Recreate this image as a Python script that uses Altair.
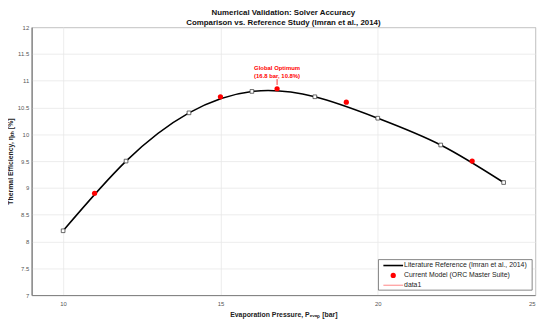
import altair as alt
import pandas as pd

# Literature reference (Imran et al., 2014)
ref_p = [10, 12, 14, 16, 18, 20, 22, 24]
ref_eta = [8.2, 9.5, 10.4, 10.8, 10.7, 10.3, 9.8, 9.1]

# Current model (ORC Master Suite)
mod_p = [11, 15, 16.8, 19, 23]
mod_eta = [8.9, 10.7, 10.85, 10.6, 9.5]

x_ticks = [10, 15, 20, 25]
y_ticks = [7, 7.5, 8, 8.5, 9, 9.5, 10, 10.5, 11, 11.5, 12]

title_lines = ["Numerical Validation: Solver Accuracy",
               "Comparison vs. Reference Study (Imran et al., 2014)"]
legend_labels = ["Literature Reference (Imran et al., 2014)",
                 "Current Model (ORC Master Suite)",
                 "data1"]
ann_lines = ["Global Optimum", "(16.8 bar, 10.8%)"]
ann_x = 16.8
ann_y = [11.23, 11.08]
ann_rule = [11.03, 10.92]

FONT = "Liberation Sans"
W, H = 511, 272

ref_df = pd.DataFrame({"p": ref_p, "eta": ref_eta})
mod_df = pd.DataFrame({"p": mod_p, "eta": mod_eta})

xs = alt.Scale(domain=[9, 25], nice=False, zero=False)
ys = alt.Scale(domain=[7, 12], nice=False, zero=False)

x_axis = alt.Axis(values=x_ticks, title="Evaporation Pressure, Pₑᵥₐₚ [bar]",
                  format="~g", titlePadding=4, labelPadding=6)
y_axis = alt.Axis(values=y_ticks, tickCount=11, title="Thermal Efficiency, ηₜₕ [%]",
                  format="~g", titlePadding=4, labelPadding=3, labelOverlap=False)


def X(f="p"):
    return alt.X(f + ":Q", scale=xs, axis=x_axis)


def Y(f="eta"):
    return alt.Y(f + ":Q", scale=ys, axis=y_axis)


curve = alt.Chart(ref_df).mark_line(color="black", strokeWidth=1.6, interpolate="natural").encode(
    x=X(), y=Y())
squares = alt.Chart(ref_df).mark_point(shape="square", filled=True, fill="white", stroke="#444444",
                                       strokeWidth=0.8, size=14, opacity=1).encode(x=X(), y=Y())
dots = alt.Chart(mod_df).mark_circle(color="#ff0000", size=28, opacity=1).encode(x=X(), y=Y())

ann_rule_df = pd.DataFrame({"p": [ann_x], "eta": [ann_rule[0]], "eta2": [ann_rule[1]]})
ann_rule_mark = alt.Chart(ann_rule_df).mark_rule(color="#ff0000", strokeWidth=0.8).encode(
    x=X(), y=Y(), y2="eta2:Q")
ann_df = pd.DataFrame({"p": [ann_x] * 2, "eta": ann_y, "t": ann_lines})
ann_text = alt.Chart(ann_df).mark_text(color="#ff0000", fontSize=6, fontWeight="bold", font=FONT,
                                       baseline="middle").encode(x=X(), y=Y(), text="t:N")

# legend (drawn in pixel coordinates of the plot area)
leg_box = alt.Chart(pd.DataFrame({"a": [0]})).mark_rect(fill="white", stroke="#666666", strokeWidth=0.8).encode(
    x=alt.value(352), x2=alt.value(508), y=alt.value(236), y2=alt.value(267))
leg_l1 = alt.Chart(pd.DataFrame({"a": [0]})).mark_rule(color="black", strokeWidth=1.6).encode(
    x=alt.value(357), x2=alt.value(377), y=alt.value(242))
leg_dot = alt.Chart(pd.DataFrame({"a": [0]})).mark_circle(color="#ff0000", size=28, opacity=1).encode(
    x=alt.value(367), y=alt.value(252))
leg_l3 = alt.Chart(pd.DataFrame({"a": [0]})).mark_rule(color="#ff6666", strokeWidth=0.8).encode(
    x=alt.value(357), x2=alt.value(377), y=alt.value(262))
leg_texts = [
    alt.Chart(pd.DataFrame({"t": [lab]})).mark_text(align="left", baseline="middle", fontSize=7,
                                                      font=FONT, color="#222222").encode(
        x=alt.value(378), y=alt.value(yy), text="t:N")
    for lab, yy in zip(legend_labels, [242, 252, 262])
]

chart = alt.layer(curve, squares, dots, ann_rule_mark, ann_text, leg_box, leg_l1, leg_dot, leg_l3,
                  *leg_texts).properties(
    width=W, height=H,
    title=alt.TitleParams(title_lines, fontSize=8, fontWeight="bold", font=FONT, color="#111111",
                          anchor="middle", lineHeight=10, offset=-3),
    autosize=alt.AutoSizeParams(type="none"),
    padding={"left": 24, "top": 17, "right": 7, "bottom": 29},
    background="white",
).configure_view(stroke="#7f7f7f", strokeWidth=1).configure_axis(
    domainColor="#7f7f7f", tickColor="#7f7f7f", ticks=False, labelFont=FONT, labelFontSize=6,
    labelColor="#555555", titleFont=FONT, titleFontSize=7, titleFontWeight="bold",
    titleColor="#222222", gridColor="#e8e8e8", gridWidth=0.8,
)

chart.save("out.html", embed_options={"renderer": "svg", "actions": False})
